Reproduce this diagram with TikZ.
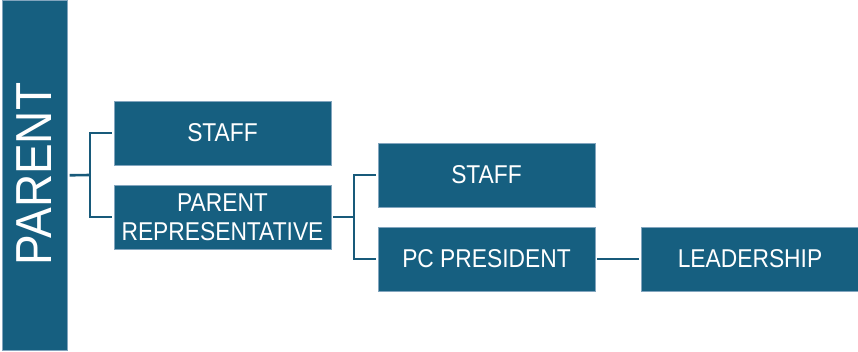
\documentclass[tikz,border=0pt]{standalone}
\usepackage{fontspec}
\setmainfont{Liberation Sans}
\definecolor{boxblue}{RGB}{22,95,128}
\definecolor{edgeblue}{RGB}{130,165,190}
\definecolor{lineblue}{RGB}{24,90,122}
\newcommand{\tallTxt}[1]{\scalebox{1}[1.13]{#1}}
\begin{document}
\begin{tikzpicture}[x=1pt,y=-1pt,
  orgbox/.style={rectangle, fill=boxblue, draw=edgeblue, line width=0.6pt,
    minimum width=217pt, minimum height=64pt, inner sep=0pt, text=white,
    align=center, font=\fontsize{22.8}{29}\selectfont},
  link/.style={draw=lineblue, line width=2.6pt, shorten <=2pt, shorten >=2pt}]
\useasboundingbox (0,0) rectangle (858,351);
\node[rectangle, fill=boxblue, draw=edgeblue, line width=0.6pt, minimum width=65pt,
  minimum height=350pt, inner sep=0pt, anchor=north west] (parent) at (2,0) {};
\node[text=white, rotate=90, font=\fontsize{46}{46}\selectfont, inner sep=0pt] (parentlbl) at ([xshift=-1pt,yshift=1pt]parent.center) {\scalebox{1}[1.1]{PARENT}};
\node[orgbox] (staffa) at (222.5,133) {\tallTxt{STAFF}};
\node[orgbox] (rep) at (222.5,217) {\raisebox{-1pt}{\tallTxt{PARENT}}\\\raisebox{-1pt}{\tallTxt{REPRESENTATIVE}}};
\node[orgbox] (staffb) at (486.5,175) {\tallTxt{STAFF}};
\node[orgbox] (pres) at (486.5,259) {\tallTxt{PC PRESIDENT}};
\node[orgbox] (lead) at (750,259) {\tallTxt{LEADERSHIP}};
\coordinate (ja) at (90,175);
\coordinate (jb) at (354,217);
\draw[link, shorten >=0pt] (parent.east) -- (ja);
\draw[link, shorten <=0pt] (ja) |- (staffa.west);
\draw[link, shorten <=0pt] (ja) |- (rep.west);
\draw[link, shorten >=0pt] (rep.east) -- (jb);
\draw[link, shorten <=0pt] (jb) |- (staffb.west);
\draw[link, shorten <=0pt] (jb) |- (pres.west);
\draw[link] (pres.east) -- (lead.west);
\end{tikzpicture}
\end{document}
